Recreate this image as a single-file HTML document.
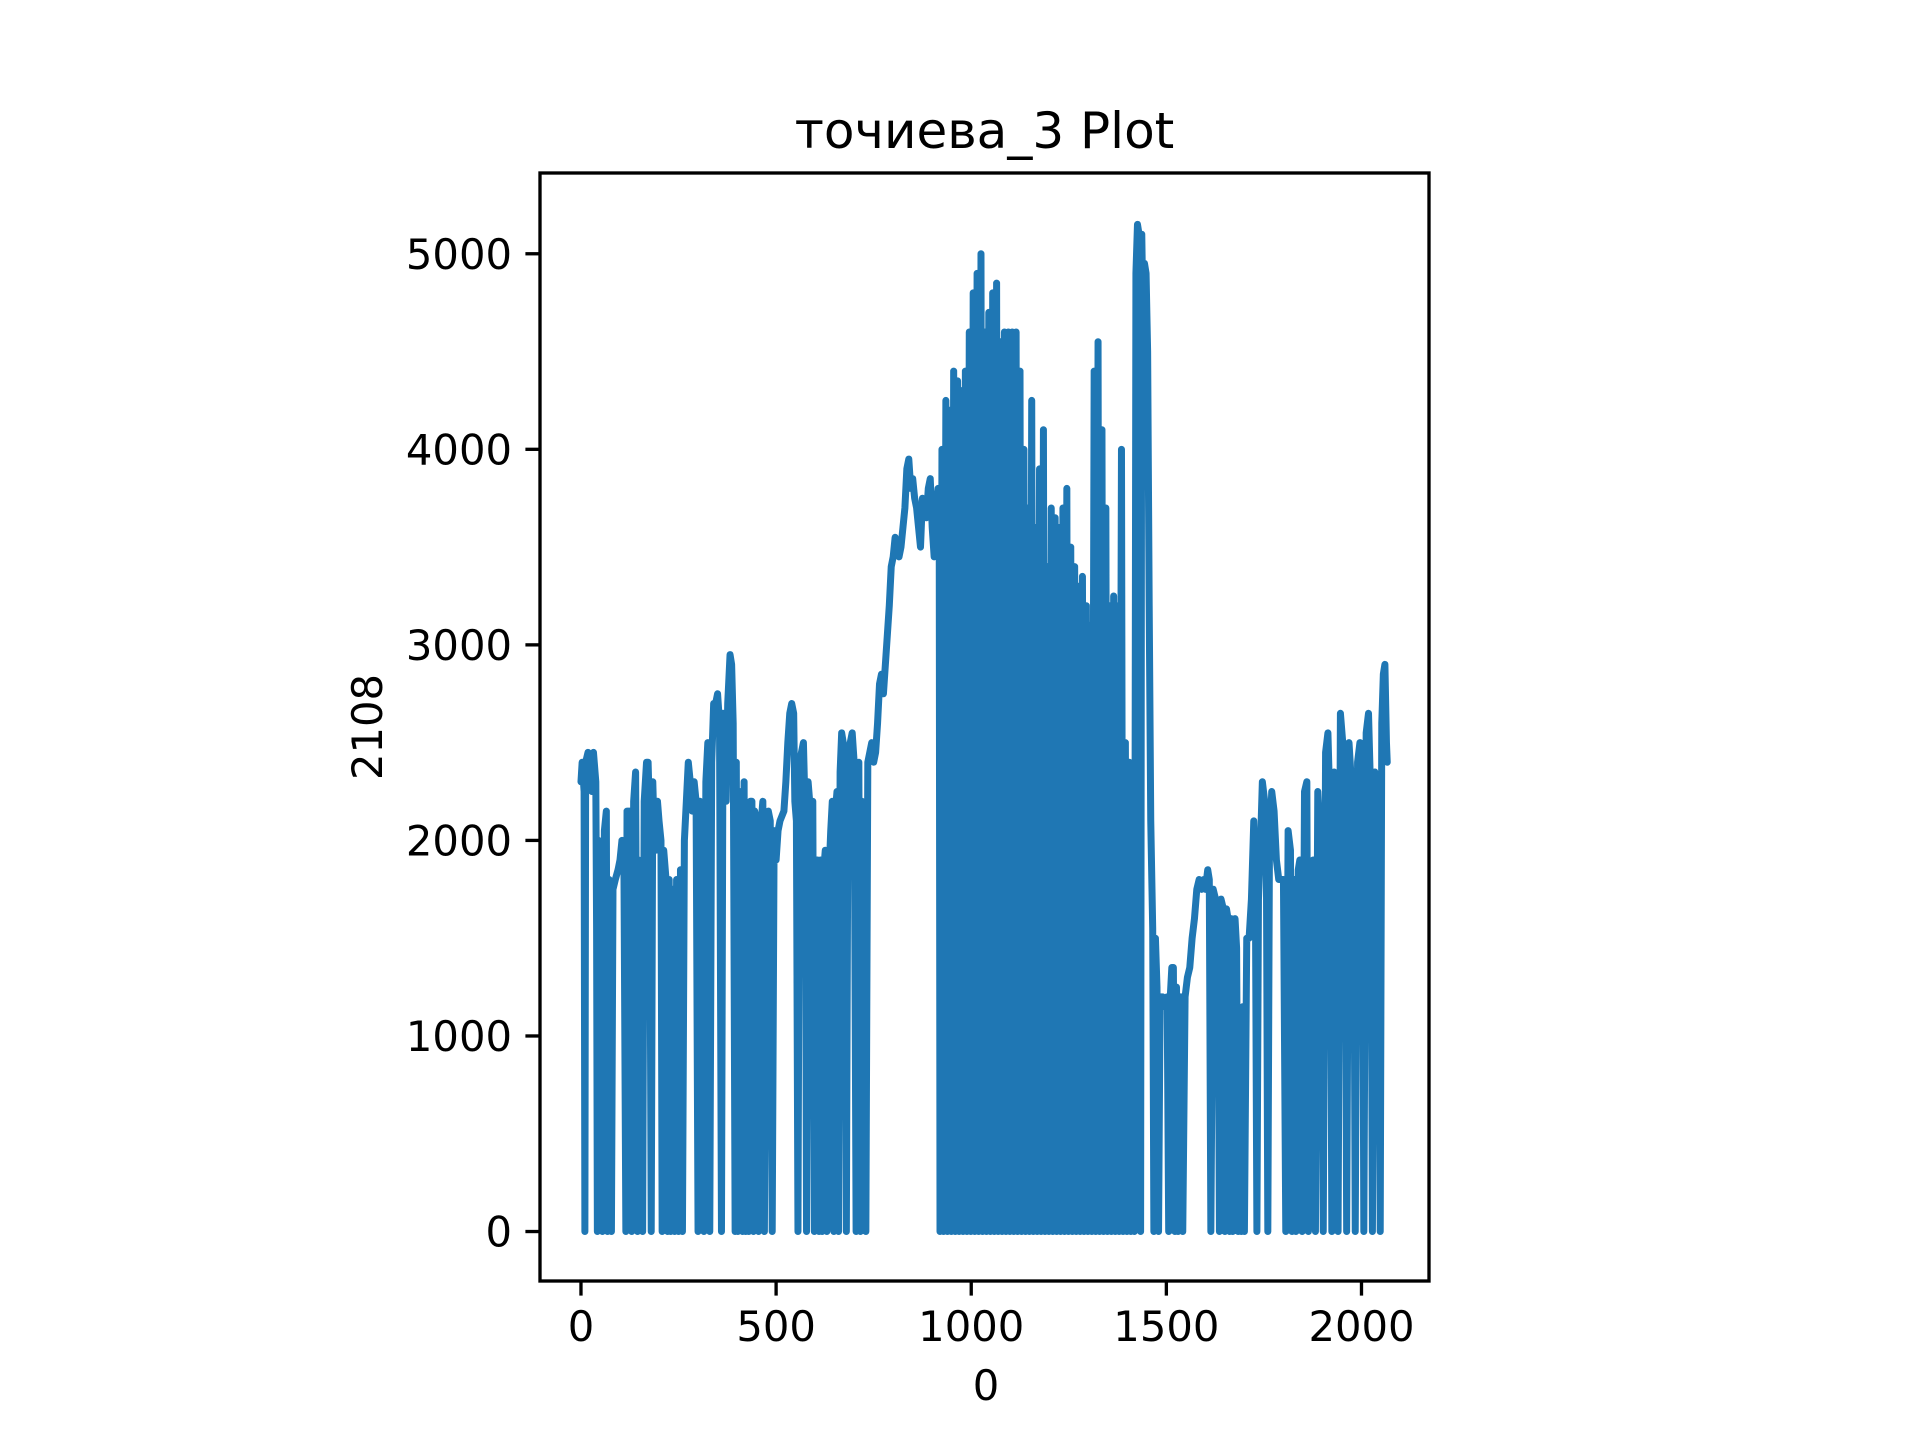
<!DOCTYPE html>
<html><head><meta charset="utf-8"><style>
html,body{margin:0;padding:0;background:#fff;}
svg{display:block;font-family:"DejaVu Sans","Liberation Sans","Noto Sans CJK SC",sans-serif;}
</style></head><body>
<svg id="chart" width="1920" height="1440" viewBox="0 0 1920 1440" xmlns="http://www.w3.org/2000/svg">
<rect width="1920" height="1440" fill="#fff"/>
<text x="984.5" y="148" font-size="50" text-anchor="middle" fill="#000">точиева_3 Plot</text>
<g id="plot"></g>
<g id="axes"></g>
<text x="986" y="1400" font-size="41.7" text-anchor="middle" fill="#000">0</text>
<text transform="translate(382,727) rotate(-90)" font-size="41.7" text-anchor="middle" fill="#000">2108</text>
</svg>
<script>
const xTicks = [0, 500, 1000, 1500, 2000];
const yTicks = [0, 1000, 2000, 3000, 4000, 5000];
const xVals = [0,3,8,10,12,18,22,28,32,38,40,42,45,50,55,60,65,68,72,78,82,88,95,100,105,110,115,118,125,130,135,140,145,148,152,158,162,168,172,176,180,184,188,192,196,200,205,208,212,218,222,226,230,235,240,245,250,255,260,265,270,275,280,285,290,295,300,305,310,315,320,325,330,335,340,345,350,355,360,364,368,372,376,382,386,390,395,398,402,405,410,414,418,422,426,430,434,438,442,445,450,455,458,462,466,470,475,480,485,490,495,500,505,510,520,525,530,535,540,545,548,552,556,560,565,570,575,578,582,586,590,594,598,602,606,610,614,618,622,626,630,636,640,644,648,652,656,660,664,668,672,676,680,684,690,695,700,705,708,712,716,720,725,730,735,740,745,750,755,760,765,770,775,780,785,790,795,800,805,810,815,820,825,830,835,840,845,850,855,860,865,870,875,880,885,890,895,900,905,910,915,918,920,
925,929,935,939,945,949,955,959,965,969,975,979,985,989,995,999,1005,1009,1015,1019,1025,1029,1035,1039,1045,1049,1055,1059,1065,1069,1075,1079,1085,1089,1095,1099,1105,1109,1115,1119,1125,1129,1135,1139,1145,1149,1155,1159,1165,1169,1175,1179,1185,1189,1195,1199,1205,1209,1215,1219,1225,1229,1235,1239,1245,1249,1255,1259,1265,1269,1275,1279,1285,1289,1295,1299,1305,1309,1315,1319,1325,1329,1335,1339,1345,1349,1355,1359,1365,1369,1375,1379,1385,1389,1395,1399,1405,1409,1415,1418,1422,1426,1430,1434,1437,
1440,1444,1448,1452,1456,1460,1465,1468,1472,1476,1480,1484,1490,1496,1502,1506,1510,1514,1518,1522,1526,1530,1534,1538,1542,1548,1554,1560,1566,1572,1578,1584,1590,1596,1600,1606,1610,1614,1620,1626,1632,1636,1640,1646,1650,1654,1658,1662,1666,1670,1676,1680,1684,1688,1692,1696,1700,1706,1712,1718,1724,1728,1732,1736,1740,1746,1752,1756,1760,1764,1770,1776,1782,1788,1794,1800,1806,1812,1818,1822,1828,1832,1838,1842,1848,1854,1860,1864,1870,1876,1882,1888,1894,1898,1902,1908,1914,1920,1924,1930,1936,1940,1946,1952,1958,1962,1968,1974,1980,1984,1990,1996,2002,2006,2012,2018,2024,2028,2034,2040,2044,2048,2052,2056,2060,2064,2066];
const yVals = [2300,2400,2250,0,2400,2450,2300,2250,2450,2300,1550,0,2000,1900,0,2050,2150,0,1800,0,1750,1800,1850,1900,2000,1900,0,2150,2150,0,2200,2350,0,1900,1750,0,2200,2400,2400,2100,0,2300,2000,1950,2200,2100,2000,0,1950,1800,0,1800,0,1750,0,1800,0,1850,0,2000,2200,2400,2300,2150,2300,2200,0,2200,2100,0,2300,2500,0,2400,2700,2700,2750,2600,0,2650,2400,2200,2700,2950,2900,2600,0,2400,0,2200,2250,0,2300,0,2100,0,2200,2200,0,2150,2100,0,2050,2100,2200,0,2050,2150,2100,0,2050,1900,2050,2100,2150,2300,2500,2650,2700,2650,2200,2100,0,2400,2450,2500,2100,0,2300,2200,2150,2200,0,1900,1900,0,1900,0,1850,1950,0,1850,2050,2200,0,2150,2250,0,2350,2550,2500,2150,0,2200,2500,2550,2400,0,2300,2400,0,2200,2100,0,2400,2450,2500,2400,2450,2600,2800,2850,2750,2900,3050,3200,3400,3450,3550,3500,3450,3500,3600,3700,3900,3950,3800,3850,3750,3700,3600,3500,3750,3700,3650,3800,3850,3600,3450,3700,3800,3600,0,
4000,0,4250,0,4200,0,4400,0,4350,0,4300,0,4400,0,4600,0,4800,0,4900,0,5000,0,4600,0,4700,0,4800,0,4850,0,4550,0,4600,0,4600,0,4600,0,4600,0,4400,0,4000,0,3700,0,4250,0,3600,0,3900,0,4100,0,3400,0,3700,0,3650,0,3600,0,3700,0,3800,0,3500,0,3400,0,3300,0,3350,0,3200,0,3100,0,4400,0,4550,0,4100,0,3700,0,3200,0,3250,0,3200,0,4000,0,2500,0,2400,0,2400,0,4900,5150,5100,0,5100,
4700,4950,4900,4500,3200,2100,1550,0,1500,1250,0,1200,1200,1150,1200,0,1200,1350,1350,0,1250,0,1200,1200,0,1200,1300,1350,1500,1600,1750,1800,1750,1800,1750,1850,1800,0,1750,1700,1650,0,1700,1650,0,1650,1600,0,1600,0,1600,1450,0,800,0,1150,0,1500,1500,1700,2100,1800,0,1700,1900,2300,2200,2050,0,1900,2250,2150,1900,1800,1800,1800,0,2050,1950,0,1800,0,1850,1900,0,2250,2300,0,1800,1900,0,2250,2000,1800,0,2450,2550,2100,0,2350,2100,0,2650,2500,2100,0,2500,2300,2000,0,2400,2500,2300,0,2550,2650,2200,0,2350,2300,1950,0,2600,2850,2900,2500,2400];

const AX = {left:540, right:1429, top:173, bottom:1281, xmin:-105, xmax:2173, ymin:-253, ymax:5413};
function sx(v){return AX.left + (v-AX.xmin)/(AX.xmax-AX.xmin)*(AX.right-AX.left);}
function sy(v){return AX.bottom - (v-AX.ymin)/(AX.ymax-AX.ymin)*(AX.bottom-AX.top);}
const NS='http://www.w3.org/2000/svg';
const plot=document.getElementById('plot');
const axes=document.getElementById('axes');
let d='';
const n=Math.min(xVals.length,yVals.length);
for(let i=0;i<n;i++){d+=(i?'L':'M')+sx(xVals[i]).toFixed(2)+' '+sy(yVals[i]).toFixed(2);}
const line=document.createElementNS(NS,'path');
line.setAttribute('d',d);
line.setAttribute('fill','none');
line.setAttribute('stroke','#1f77b4');
line.setAttribute('stroke-width','7');
line.setAttribute('stroke-linejoin','round');
line.setAttribute('stroke-linecap','round');


plot.appendChild(line);

const frame=document.createElementNS(NS,'rect');
frame.setAttribute('x',AX.left);frame.setAttribute('y',AX.top);
frame.setAttribute('width',AX.right-AX.left);frame.setAttribute('height',AX.bottom-AX.top);
frame.setAttribute('fill','none');frame.setAttribute('stroke','#000');frame.setAttribute('stroke-width','3.33');


axes.appendChild(frame);

xTicks.forEach(t=>{
  const x=sx(t);
  const tk=document.createElementNS(NS,'line');
  tk.setAttribute('x1',x);tk.setAttribute('x2',x);tk.setAttribute('y1',AX.bottom);tk.setAttribute('y2',AX.bottom+14.6);
  tk.setAttribute('stroke','#000');tk.setAttribute('stroke-width','3.33');
  
  
  axes.appendChild(tk);
  const lb=document.createElementNS(NS,'text');
  lb.setAttribute('x',x);lb.setAttribute('y',AX.bottom+60);
  lb.setAttribute('font-size','41.7');lb.setAttribute('text-anchor','middle');
  lb.textContent=String(t);
  
  
  axes.appendChild(lb);
});
yTicks.forEach(t=>{
  const y=sy(t);
  const tk=document.createElementNS(NS,'line');
  tk.setAttribute('x1',AX.left-14.6);tk.setAttribute('x2',AX.left);tk.setAttribute('y1',y);tk.setAttribute('y2',y);
  tk.setAttribute('stroke','#000');tk.setAttribute('stroke-width','3.33');
  
  
  axes.appendChild(tk);
  const lb=document.createElementNS(NS,'text');
  lb.setAttribute('x',AX.left-28);lb.setAttribute('y',y+15);
  lb.setAttribute('font-size','41.7');lb.setAttribute('text-anchor','end');
  lb.textContent=String(t);
  
  
  axes.appendChild(lb);
});
</script>
</body></html>
